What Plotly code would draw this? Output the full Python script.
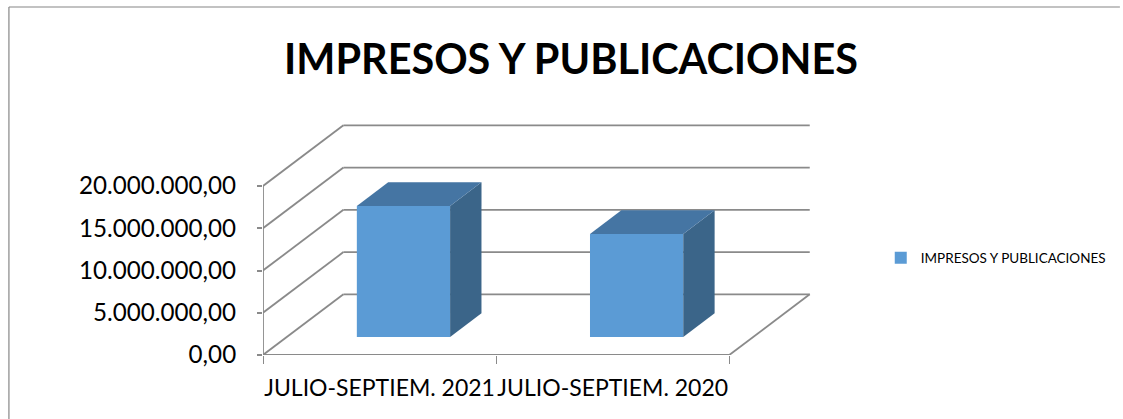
import plotly.graph_objects as go

TITLE = "IMPRESOS Y PUBLICACIONES"
categories = ["JULIO-SEPTIEM. 2021", "JULIO-SEPTIEM. 2020"]
values = [15500000, 12200000]
tick_values = [0, 5000000, 10000000, 15000000, 20000000]
tick_labels = ["0,00", "5.000.000,00", "10.000.000,00", "15.000.000,00", "20.000.000,00"]

FONT = "Lato"
GRID = "#8a8a8a"
FRONT, TOP, SIDE = "#5B9BD5", "#4575A3", "#3B6589"

# Oblique projection of the depth axis, in axis units
DEPTH_X, DEPTH_Y = 0.345, 7180000
BAR_W = 0.4
D0, D1 = 0.297, 0.687  # bar start / end along depth

def proj(x, y, d):
    return x + d * DEPTH_X, y + d * DEPTH_Y

n = len(categories)
y_max = max(tick_values)
fig = go.Figure()

# front faces
cx = [i + 0.5 + D0 * DEPTH_X for i in range(n)]
base = D0 * DEPTH_Y
fig.add_trace(go.Bar(x=cx, y=values, base=[base] * n, width=BAR_W, name=TITLE,
                     marker=dict(color=FRONT, line=dict(width=0)), showlegend=True))

# side and top faces
for i, v in enumerate(values):
    xl, xr = i + 0.5 - BAR_W / 2, i + 0.5 + BAR_W / 2
    pts = [proj(xr, 0, D0), proj(xr, 0, D1), proj(xr, v, D1), proj(xr, v, D0)]
    fig.add_trace(go.Scatter(x=[p[0] for p in pts], y=[p[1] for p in pts], mode="lines", fill="toself",
                             fillcolor=SIDE, line=dict(width=0), showlegend=False, hoverinfo="skip"))
    pts = [proj(xl, v, D0), proj(xr, v, D0), proj(xr, v, D1), proj(xl, v, D1)]
    fig.add_trace(go.Scatter(x=[p[0] for p in pts], y=[p[1] for p in pts], mode="lines", fill="toself",
                             fillcolor=TOP, line=dict(width=0), showlegend=False, hoverinfo="skip"))

# axis lines
fig.add_trace(go.Scatter(x=[0, 0, n], y=[y_max, 0, 0], mode="lines", line=dict(color=GRID, width=1.8),
                         cliponaxis=False, showlegend=False, hoverinfo="skip"))

# walls and floor
shapes = []
for t in tick_values:
    bx, by = proj(0, t, 1)
    shapes.append(dict(type="line", xref="x", yref="y", x0=0, y0=t, x1=bx, y1=by,
                       line=dict(color=GRID, width=1.8), layer="below"))
    shapes.append(dict(type="line", xref="x", yref="y", x0=bx, y0=by, x1=n + DEPTH_X, y1=by,
                       line=dict(color=GRID, width=1.8), layer="below"))
shapes.append(dict(type="line", xref="x", yref="y", x0=n, y0=0, x1=n + DEPTH_X, y1=DEPTH_Y,
                   line=dict(color=GRID, width=1.8), layer="below"))

# chart border (paper coordinates; plot area is 263..815 px wide, 122..355 px high)
L, R, T, B = 263, 815, 122, 355
PX, PY = float(R - L), float(B - T)
shapes.append(dict(type="line", xref="paper", yref="paper", x0=(8 - L) / PX, x1=(1123 - L) / PX,
                   y0=(B - 7) / PY, y1=(B - 7) / PY, line=dict(color="#868686", width=1.2)))
shapes.append(dict(type="line", xref="paper", yref="paper", x0=(8 - L) / PX, x1=(8 - L) / PX,
                   y0=(B - 7) / PY, y1=(B - 419) / PY, line=dict(color="#868686", width=1.2)))

fig.update_layout(
    width=1123, height=419,
    margin=dict(l=L, r=1123 - R, t=T, b=419 - B, pad=0),
    paper_bgcolor="white", plot_bgcolor="white",
    font=dict(family=FONT, color="black"),
    title=dict(text="<b>" + TITLE + "</b>", font=dict(family=FONT, size=41.4, color="black"),
               x=571 / 1123, xanchor="center", xref="container",
               y=1 - 60 / 419, yanchor="middle"),
    shapes=shapes,
    showlegend=True,
    legend=dict(x=(883 - L) / PX, y=(B - 258) / PY, xanchor="left", yanchor="middle",
                font=dict(family=FONT, size=13.5, color="black"), bgcolor="rgba(0,0,0,0)"),
    xaxis=dict(range=[0, PX / 234.0], tickmode="array", tickvals=[i + 0.5 for i in range(n)],
               ticktext=categories, ticks="", showgrid=False, zeroline=False, showline=False,
               tickfont=dict(family=FONT, size=23, color="black"), ticklabelstandoff=17,
               minor=dict(tickmode="array", tickvals=list(range(n + 1)), ticks="outside", ticklen=8,
                          tickcolor=GRID, tickwidth=1, showgrid=False)),
    yaxis=dict(range=[0, PY * 20000000 / 169.0], tickmode="array", tickvals=tick_values,
               ticktext=tick_labels, ticks="outside", ticklen=5, tickcolor=GRID, tickwidth=1.5,
               showgrid=False, zeroline=False, showline=False,
               tickfont=dict(family=FONT, size=24.2, color="black"), ticklabelstandoff=16),
)

fig.write_html("out.html", config=dict(displayModeBar=False), post_script="document.body.style.margin='0';")
